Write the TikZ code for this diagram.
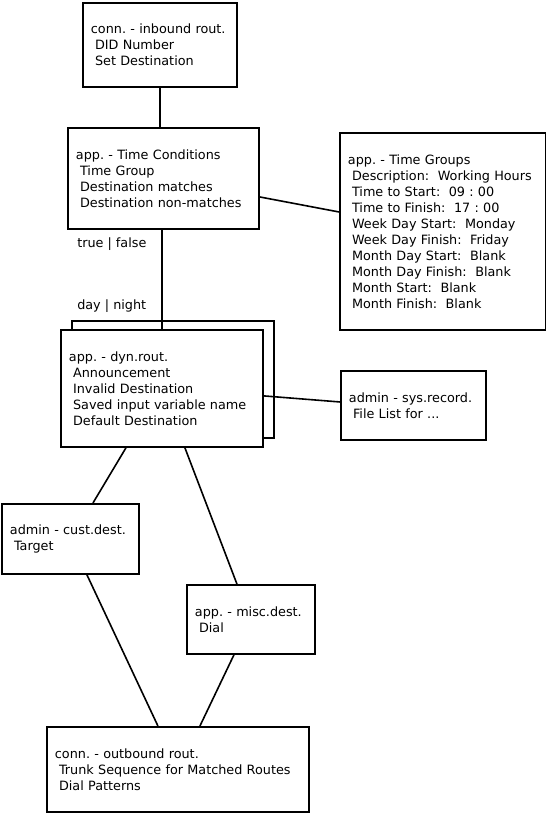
\documentclass[tikz,border=0pt]{standalone}
\usepackage{fontspec}
\setmainfont{DejaVu Sans}
\usetikzlibrary{positioning}
\newcommand\ind{\hspace*{0.32em}}
\frenchspacing

\begin{document}
\begin{tikzpicture}[x=0.75pt, y=-0.75pt,
    box/.style={rectangle, draw=black, fill=white, line width=1.4pt,
                anchor=north west, inner xsep=6pt, inner ysep=0pt,
                align=left, font=\fontsize{9.6pt}{12pt}\selectfont},
    leg/.style={draw=black, line width=1.2pt},
    tag/.style={anchor=west, inner sep=0pt, font=\fontsize{9.6pt}{12pt}\selectfont}]
  % page in pixel units
  \useasboundingbox (0,0) rectangle (546,814);
  % --- inbound route and time conditions --------------------------------
  \node[box, minimum width=115.5pt, minimum height=63pt, text width=103.5pt]
    (inbound) at (82,2) {conn. - inbound rout.\\ \ind DID Number\\ \ind Set Destination};
  \node[box, minimum width=143.25pt, minimum height=75.75pt, text width=131.25pt]
    (tcond) at (67,127) {app. - Time Conditions\\ \ind Time Group\\ \ind Destination matches\\
      \ind Destination non-matches};
  \node[box, minimum width=154.5pt, minimum height=147.75pt, text width=142.5pt]
    (tgroup) at (339,132) {app. - Time Groups\\
      \ind Description:\ \ Working Hours\\
      \ind Time to Start:\ \ 09 : 00\\
      \ind Time to Finish:\ \ 17 : 00\\
      \ind Week Day Start:\ \ Monday\\
      \ind Week Day Finish:\ \ Friday\\
      \ind Month Day Start:\ \ Blank\\
      \ind Month Day Finish:\ \ Blank\\
      \ind Month Start:\ \ Blank\\
      \ind Month Finish:\ \ Blank};
  % --- dynamic routing (stacked) ------------------------------------------
  \node[box, minimum width=151.5pt, minimum height=87.75pt, text width=139.5pt]
    (dynback) at (71,320) {};
  \node[box, minimum width=151.5pt, minimum height=87.75pt, text width=139.5pt]
    (dyn) at (60,329) {app. - dyn.rout.\\ \ind Announcement\\ \ind Invalid Destination\\
      \ind Saved input variable name\\ \ind Default Destination};
  \node[box, minimum width=108.75pt, minimum height=51.75pt, text width=96.75pt]
    (sysrec) at (340,370) {admin - sys.record.\\ \ind File List for ...};
  % --- destinations ---------------------------------------------------------
  \node[box, minimum width=102.75pt, minimum height=52.5pt, text width=90.75pt]
    (custdest) at (1,503) {admin - cust.dest.\\ \ind Target};
  \node[box, minimum width=96pt, minimum height=51.75pt, text width=84pt]
    (miscdest) at (186,584) {app. - misc.dest.\\ \ind Dial};
  \node[box, minimum width=196.5pt, minimum height=63.75pt, text width=184.5pt]
    (outbound) at (46,726) {conn. - outbound rout.\\ \ind Trunk Sequence for Matched Routes\\
      \ind Dial Patterns};
  \node[tag] (tf) at (77,244) {true | false};
  \node[tag] (dn) at (77,306) {day | night};
  % --- connectors -------------------------------------------------------------
  \draw[leg] (inbound.south) -- (inbound.south |- tcond.north);
  \draw[leg] ([yshift=-13.9pt]tcond.east) -- ([yshift=14.6pt]tgroup.west);
  \draw[leg] (dyn.north |- tcond.south) -- (dyn.north);
  \draw[leg] ([yshift=-5.6pt]dyn.east) -- ([yshift=2.6pt]sysrec.west);
  \draw[leg] ([xshift=-27pt]dyn.south) -- ([xshift=16.9pt]custdest.north);
  \draw[leg] ([xshift=17.25pt]dyn.south) -- ([xshift=-10.5pt]miscdest.north);
  \draw[leg] ([xshift=12.4pt]custdest.south) -- ([xshift=-15pt]outbound.north);
  \draw[leg] ([xshift=-12.75pt]miscdest.south) -- ([xshift=16.5pt]outbound.north);
\end{tikzpicture}
\end{document}
